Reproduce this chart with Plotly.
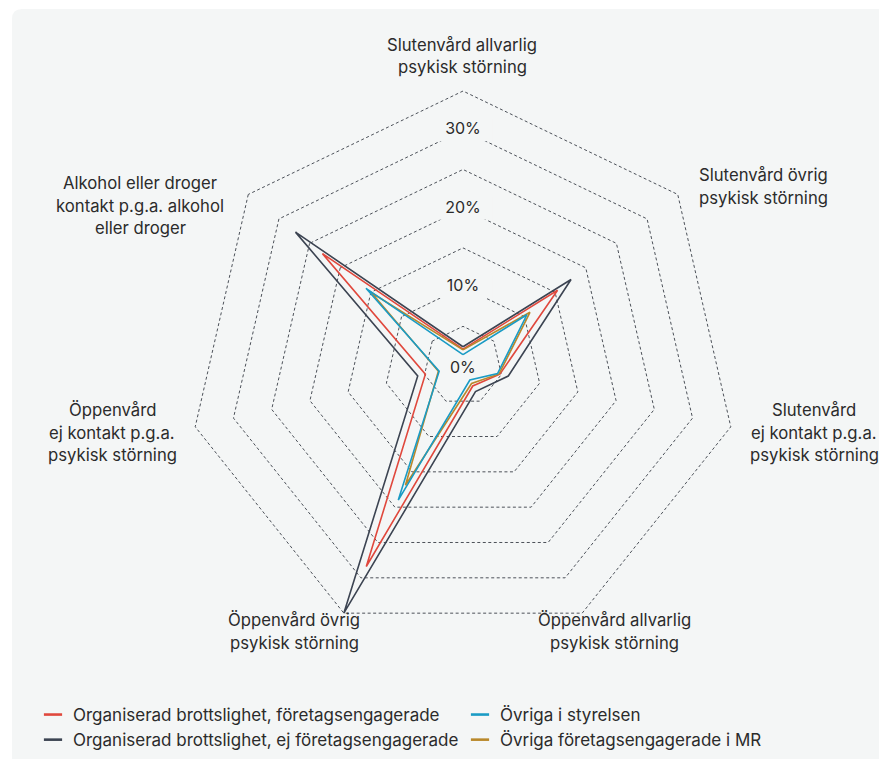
import plotly.graph_objects as go

categories = [
    "Slutenvård allvarlig psykisk störning",
    "Slutenvård övrig psykisk störning",
    "Slutenvård ej kontakt p.g.a. psykisk störning",
    "Öppenvård allvarlig psykisk störning",
    "Öppenvård övrig psykisk störning",
    "Öppenvård ej kontakt p.g.a. psykisk störning",
    "Alkohol eller droger kontakt p.g.a. alkohol eller droger",
]
category_lines = [
    ["Slutenvård allvarlig", "psykisk störning"],
    ["Slutenvård övrig", "psykisk störning"],
    ["Slutenvård", "ej kontakt p.g.a.", "psykisk störning"],
    ["Öppenvård allvarlig", "psykisk störning"],
    ["Öppenvård övrig", "psykisk störning"],
    ["Öppenvård", "ej kontakt p.g.a.", "psykisk störning"],
    ["Alkohol eller droger", "kontakt p.g.a. alkohol", "eller droger"],
]

series_names = [
    "Organiserad brottslighet, företagsengagerade",
    "Övriga i styrelsen",
    "Organiserad brottslighet, ej företagsengagerade",
    "Övriga företagsengagerade i MR",
]
red_vals = [2.1, 15.4, 4.8, 2.85, 28.4, 4.9, 22.9]
blue_vals = [1.4, 10.4, 4.5, 2.0, 19.0, 3.1, 15.8]
dark_vals = [2.4, 17.6, 5.9, 3.65, 35.0, 5.9, 27.3]
gold_vals = [2.0, 10.9, 4.7, 2.5, 16.9, 3.2, 14.9]
series_values = [red_vals, blue_vals, dark_vals, gold_vals]
series_colors = ["#e0483d", "#1a9bc4", "#3c4452", "#b9882b"]

tick_values = [10, 20, 30]
tick_labels = ["10%", "20%", "30%"]
zero_label = "0%"
r_max = 35
r_min = -0.02
r_top = 35.3

W, H = 887, 759
OFF = 8  # page body margin
BG = "#f4f6f6"
CX, CY, R = 463.0 - OFF, 365.7 - OFF, 274.5
RD = R * (r_top - r_min) / r_max

fig = go.Figure()

# mask behind radial tick labels (hides grid under the label)
fig.add_trace(go.Scatterpolar(
    r=tick_values, theta=[categories[0]] * len(tick_values), mode="markers",
    marker=dict(symbol="line-ew", size=42, color=BG, line=dict(color=BG, width=22)),
    showlegend=False, hoverinfo="skip"))

draw_order = [2, 0, 3, 1]
for i in draw_order:
    vals = series_values[i]
    fig.add_trace(go.Scatterpolar(
        r=vals + vals[:1], theta=categories + categories[:1],
        mode="lines", line=dict(color=series_colors[i], width=1.6),
        showlegend=False, hoverinfo="skip"))

# radial tick label text
fig.add_trace(go.Scatterpolar(
    r=tick_values, theta=[categories[0]] * len(tick_values), mode="text",
    text=tick_labels, textposition="middle center",
    textfont=dict(size=16, color="#2b2b2b"),
    showlegend=False, hoverinfo="skip"))

for name, col in zip(series_names, series_colors):
    fig.add_trace(go.Scatterpolar(
        r=[None], theta=[None], mode="markers", name=name,
        marker=dict(symbol="line-ew-open", size=13, color=col,
                    line=dict(color=col, width=2.6)),
        showlegend=True))

dom_x = [(CX - RD) / W, (CX + RD) / W]
dom_y = [1 - (CY + RD) / H, 1 - (CY - RD) / H]

fig.update_layout(
    width=W, height=H,
    margin=dict(l=0, r=0, t=0, b=0),
    paper_bgcolor="white",
    font=dict(family="Inter, Noto Sans, sans-serif", size=16.7, color="#2b2b2b"),
    polar=dict(
        domain=dict(x=dom_x, y=dom_y),
        bgcolor="rgba(0,0,0,0)",
        radialaxis=dict(range=[r_min, r_top], dtick=5, tick0=0, showline=False,
                        showticklabels=False, ticks="", gridcolor="#4c5159",
                        gridwidth=1, griddash="3px,2.5px"),
        angularaxis=dict(direction="clockwise", rotation=90, showgrid=False,
                         showline=False, showticklabels=False, ticks="",
                         categoryorder="array", categoryarray=categories),
        gridshape="linear",
    ),
    legend=dict(orientation="h", x=(33 - OFF) / W, y=1 - (697 - OFF) / H,
                xanchor="left", yanchor="top",
                entrywidth=382, entrywidthmode="pixels",
                font=dict(size=17, color="#2b2b2b"), bgcolor="rgba(0,0,0,0)",
                itemwidth=30),
    showlegend=True,
)

# background panel with rounded top-left corner
px = lambda v: (v - OFF) / W
py = lambda v: 1 - (v - OFF) / H
rr = 10
path = (f"M {px(12)} {py(800)} L {px(12)} {py(9 + rr)} Q {px(12)} {py(9)} {px(12 + rr)} {py(9)} "
        f"L {px(920)} {py(9)} L {px(920)} {py(800)} Z")
fig.add_shape(type="path", path=path, xref="paper", yref="paper",
              fillcolor=BG, line=dict(width=0), layer="below")

# "0%" label at the polar centre
fig.add_annotation(x=CX / W, y=1 - (CY + 1.5) / H, xref="paper", yref="paper",
                   text=zero_label, showarrow=False, xanchor="center", yanchor="middle",
                   font=dict(size=16, color="#2b2b2b"))

# category labels (reference-pixel centre of each line)
label_pos = [(462, 45), (763, 175), (814, 410), (614, 620), (294, 620), (112, 410), (140, 183)]
line_gap = 22.5
for lines, (lx, ly) in zip(category_lines, label_pos):
    for k, ln in enumerate(lines):
        fig.add_annotation(x=px(lx), y=py(ly + k * line_gap), xref="paper", yref="paper",
                           text=ln, showarrow=False, xanchor="center", yanchor="middle",
                           font=dict(size=16.7, color="#2b2b2b"))

fig.write_html("out.html")
